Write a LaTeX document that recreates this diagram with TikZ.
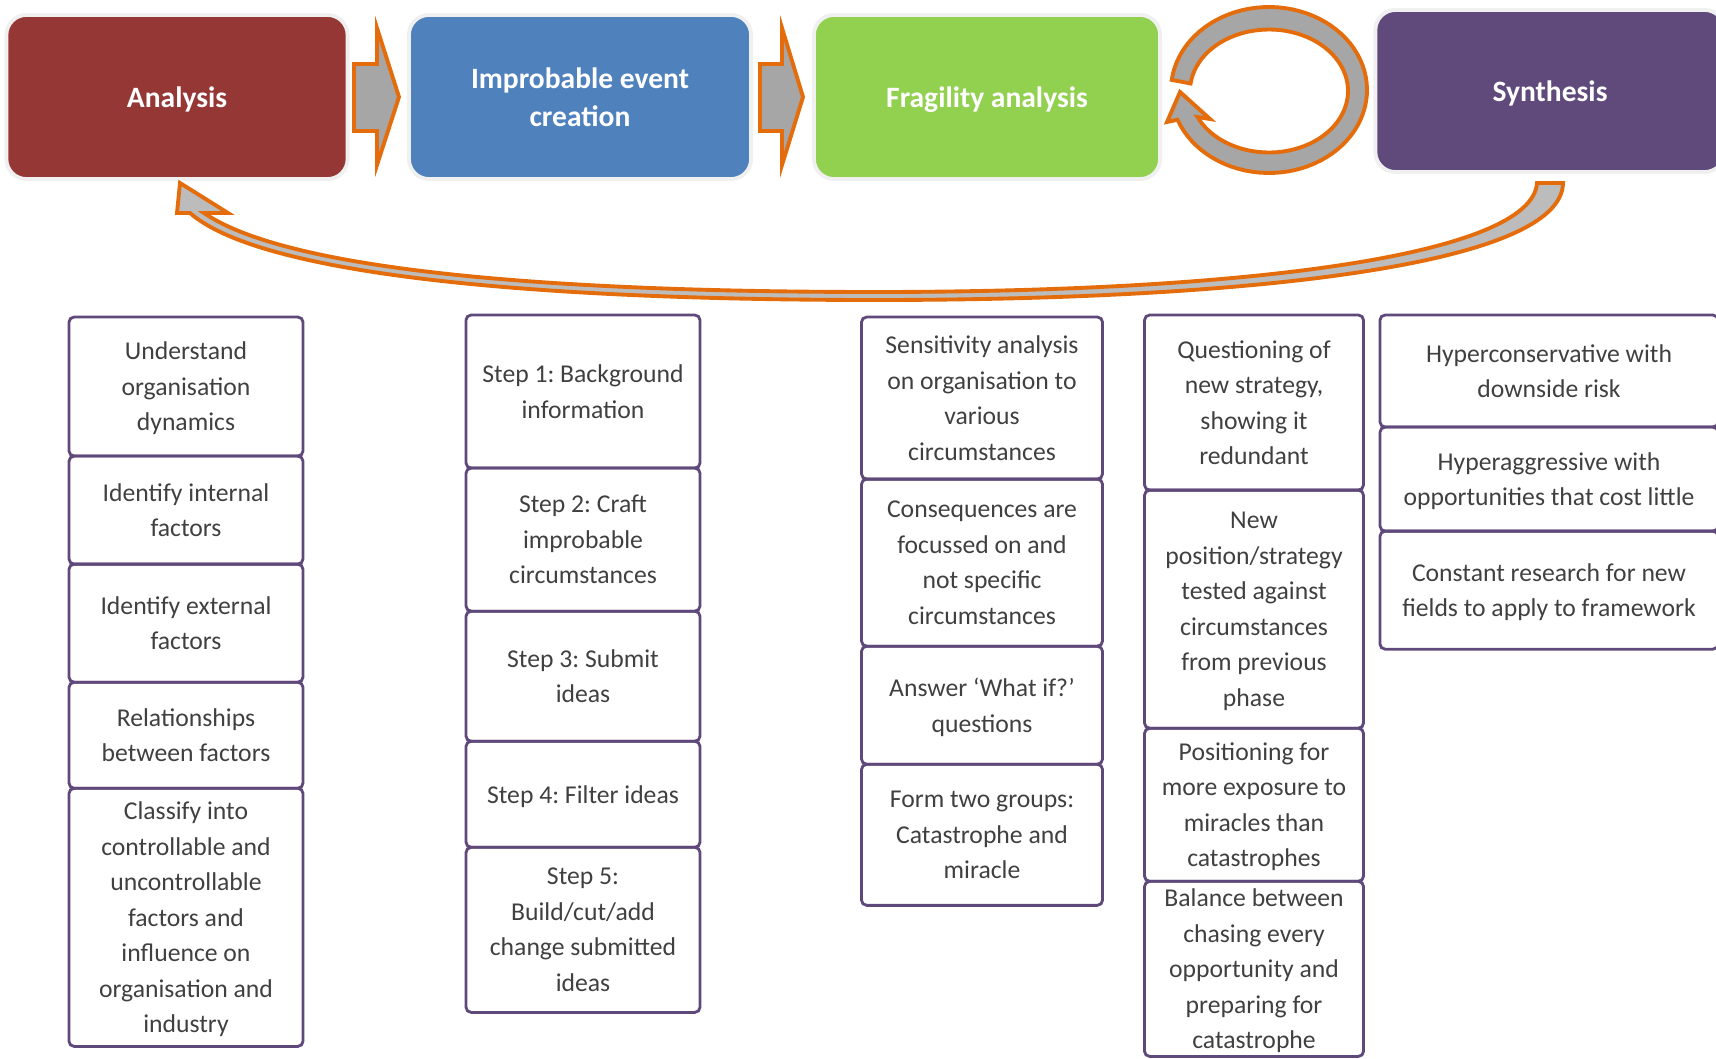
\documentclass[tikz,border=0pt]{standalone}
\usepackage{fontspec}
\setmainfont{Carlito}
\usetikzlibrary{positioning}
\definecolor{AnaRed}{HTML}{953735}
\definecolor{ImpBlue}{HTML}{4F81BD}
\definecolor{FraGreen}{HTML}{92D050}
\definecolor{SynPurple}{HTML}{604A7B}
\definecolor{BoxPurple}{HTML}{5F497A}
\definecolor{ArrOrange}{HTML}{E46C0A}
\definecolor{ArrGray}{HTML}{A6A6A6}
\definecolor{TxtGray}{HTML}{404040}
\frenchspacing

\begin{document}
\begin{tikzpicture}[x=0.01cm,y=-0.01cm,
 head/.style={rounded corners=0.2cm,draw=black!6,line width=1.1pt,minimum height=1.64cm,text depth=-1pt,
  text=white,align=center,font=\bfseries\fontsize{8.4}{11}\selectfont},
 item/.style={draw=BoxPurple,line width=.8pt,rounded corners=1.5pt,outer sep=0pt,inner sep=1pt,text depth=-1pt,
  align=center,text=TxtGray,font=\fontsize{7.3}{10.1}\selectfont},
 blk/.style={fill=ArrGray,draw=ArrOrange,line width=1.1pt,line join=miter}]
\useasboundingbox (0,0) rectangle (1716,1058);

\node[head,fill=AnaRed,minimum width=3.41cm] (ana) at (177,97) {Analysis};
\node[head,fill=ImpBlue,minimum width=3.42cm] (imp) at (580,97) {Improbable event\\creation};
\node[head,fill=FraGreen,minimum width=3.46cm] (fra) at (987,97) {Fragility analysis};
\node[head,fill=SynPurple,minimum width=3.49cm,minimum height=1.62cm] (syn) at (1550,91) {Synthesis};

\draw[blk] (354,64) -- (377,64) -- (377,28) -- (399,97) -- (377,165) -- (377,131) -- (354,131) -- cycle;
\draw[blk] (760,64) -- (782,64) -- (782,28) -- (803,97) -- (782,165) -- (782,131) -- (760,131) -- cycle;
\draw[blk] plot[domain=187:519,samples=80] ({1269+98*cos(\x)},{90+83*sin(\x)})
 -- (1167,122) -- (1180,92) -- (1210,119)
 -- plot[domain=515:187,samples=80] ({1269+79*cos(\x)},{91+61.5*sin(\x)}) -- cycle;
\draw[blk,fill=ArrGray!75] (180,183) -- (228,213) -- (204,213)
 .. controls (290,272) and (560,292) .. (876,292)
 .. controls (1250,292) and (1532,255) .. (1537,183) -- (1563,183)
 .. controls (1562,265) and (1250,300) .. (876,300)
 .. controls (540,300) and (262,276) .. (190,213) -- (177,213) -- cycle;

\node[item,minimum width=2.34cm,minimum height=1.39cm,anchor=north] (a1) at (186,317) {Understand\\organisation\\dynamics};
\node[item,minimum width=2.34cm,minimum height=1.08cm,below=0pt of a1] (a2) {Identify internal\\factors};
\node[item,minimum width=2.34cm,minimum height=1.18cm,below=0pt of a2] (a3) {Identify external\\factors};
\node[item,minimum width=2.34cm,minimum height=1.06cm,below=0pt of a3] (a4) {Relationships\\between factors};
\node[item,minimum width=2.34cm,minimum height=2.58cm,below=0pt of a4] (a5) {Classify into\\controllable and\\uncontrollable\\factors and\\influence on\\organisation and\\industry};

\node[item,minimum width=2.34cm,minimum height=1.53cm,anchor=north] (b1) at (583,315) {Step 1: Background\\information};
\node[item,minimum width=2.34cm,minimum height=1.43cm,below=0pt of b1] (b2) {Step 2: Craft\\improbable\\circumstances};
\node[item,minimum width=2.34cm,minimum height=1.30cm,below=0pt of b2] (b3) {Step 3: Submit\\ideas};
\node[item,minimum width=2.34cm,minimum height=1.06cm,below=0pt of b3] (b4) {Step 4: Filter ideas};
\node[item,minimum width=2.34cm,minimum height=1.65cm,below=0pt of b4] (b5) {Step 5:\\Build/cut/add\\change submitted\\ideas};

\node[item,minimum width=2.41cm,minimum height=1.62cm,anchor=north] (c1) at (982,317) {Sensitivity analysis\\on organisation to\\various\\circumstances};
\node[item,minimum width=2.41cm,minimum height=1.67cm,below=0pt of c1] (c2) {Consequences are\\focussed on and\\not specific\\circumstances};
\node[item,minimum width=2.41cm,minimum height=1.18cm,below=0pt of c2] (c3) {Answer ‘What if?’\\questions};
\node[item,minimum width=2.41cm,minimum height=1.41cm,below=0pt of c3] (c4) {Form two groups:\\Catastrophe and\\miracle};

\node[item,minimum width=2.19cm,minimum height=1.75cm,anchor=north] (d1) at (1254,315) {Questioning of\\new strategy,\\showing it\\redundant};
\node[item,minimum width=2.19cm,minimum height=2.38cm,below=0pt of d1] (d2) {New\\position/strategy\\tested against\\circumstances\\from previous\\phase};
\node[item,minimum width=2.19cm,minimum height=1.53cm,below=0pt of d2] (d3) {Positioning for\\more exposure to\\miracles than\\catastrophes};
\node[item,minimum width=2.19cm,minimum height=1.75cm,below=0pt of d3] (d4) {Balance between\\chasing every\\opportunity and\\preparing for\\catastrophe};

\node[item,minimum width=3.38cm,minimum height=1.12cm,anchor=north] (e1) at (1549,315) {Hyperconservative with\\downside risk};
\node[item,minimum width=3.38cm,minimum height=1.04cm,below=0pt of e1] (e2) {Hyperaggressive with\\opportunities that cost little};
\node[item,minimum width=3.38cm,minimum height=1.18cm,below=0pt of e2] (e3) {Constant research for new\\fields to apply to framework};
\end{tikzpicture}
\end{document}
